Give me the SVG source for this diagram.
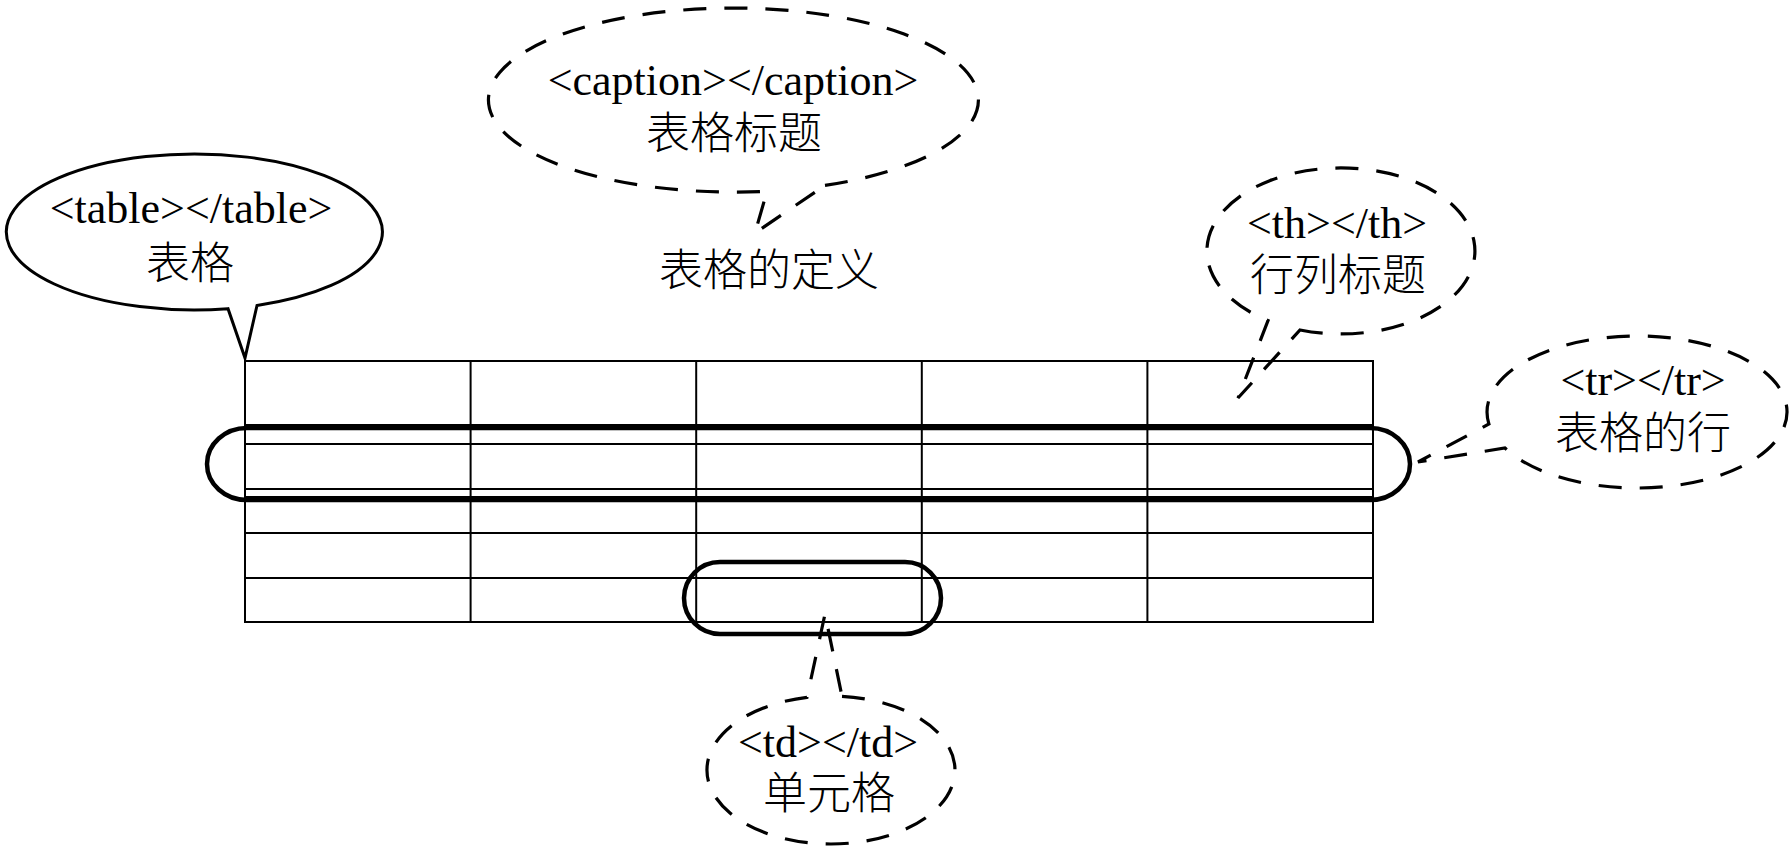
<svg xmlns="http://www.w3.org/2000/svg" width="1790" height="854" viewBox="0 0 1790 854">
<style>
.bg{fill:#fff}
.grid line,.grid rect{stroke:#000;stroke-width:2;fill:none}
.hl{fill:none;stroke:#000;stroke-width:4.5}
.solid{fill:#fff;stroke:#000;stroke-width:3;stroke-linejoin:miter}
.dash{fill:#fff;stroke:#000;stroke-width:3.2;stroke-dasharray:23 18}
.dashn{fill:none;stroke:#000;stroke-width:3.2;stroke-dasharray:23 18}
text{font-family:"Liberation Serif","Noto Sans CJK SC",serif;font-size:44px;fill:#000;text-anchor:middle}
text.cjk{font-weight:300}
</style>
<rect class="bg" x="0" y="0" width="1790" height="854"/>
<g id="table" class="grid">
<rect x="245" y="361" width="1128" height="261"/>
<line x1="245" y1="425" x2="1373" y2="425"/>
<line x1="245" y1="444" x2="1373" y2="444"/>
<line x1="245" y1="489" x2="1373" y2="489"/>
<line x1="245" y1="497" x2="1373" y2="497"/>
<line x1="245" y1="533" x2="1373" y2="533"/>
<line x1="245" y1="578" x2="1373" y2="578"/>
<line x1="470.6" y1="361" x2="470.6" y2="622"/>
<line x1="696.2" y1="361" x2="696.2" y2="622"/>
<line x1="921.8" y1="361" x2="921.8" y2="622"/>
<line x1="1147.4" y1="361" x2="1147.4" y2="622"/>
</g>
<g id="row-highlight">
<rect class="hl" x="207" y="428" width="1203" height="72" rx="40" ry="36"/>
</g>
<g id="cell-highlight">
<rect class="hl" x="684" y="562" width="257" height="72" rx="36" ry="36"/>
</g>
<g id="title">
<text class="cjk" x="769" y="286">表格的定义</text>
</g>
<g id="callout-table">
<path class="solid" d="M 257 305.5 A 188 78 0 1 0 228 308.7 L 245 358 Z"/>
<text x="191" y="223">&lt;table&gt;&lt;/table&gt;</text>
<text class="cjk" x="190" y="279">表格</text>
</g>
<g id="callout-caption">
<path class="dash" d="M 825 185.4 A 245 92 0 1 0 767 191.2 L 755 233 Z"/>
<text x="733" y="95">&lt;caption&gt;&lt;/caption&gt;</text>
<text class="cjk" x="734" y="149">表格标题</text>
</g>
<g id="callout-th">
<path class="dashn" d="M 1300 330 A 134 83 0 1 0 1268 320.6 L 1238 398 Z"/>
<text x="1337" y="238">&lt;th&gt;&lt;/th&gt;</text>
<text class="cjk" x="1338" y="291">行列标题</text>
</g>
<g id="callout-tr">
<path class="dash" d="M 1488.9 424 A 150 76 0 1 1 1504.9 448 L 1418 462 Z"/>
<text x="1643" y="395">&lt;tr&gt;&lt;/tr&gt;</text>
<text class="cjk" x="1643" y="449">表格的行</text>
</g>
<g id="callout-td">
<path class="dashn" d="M 842 696.3 A 124 74 0 1 1 807 697.4 L 825 614 Z"/>
<text x="828" y="757">&lt;td&gt;&lt;/td&gt;</text>
<text class="cjk" x="829" y="809">单元格</text>
</g>
</svg>
